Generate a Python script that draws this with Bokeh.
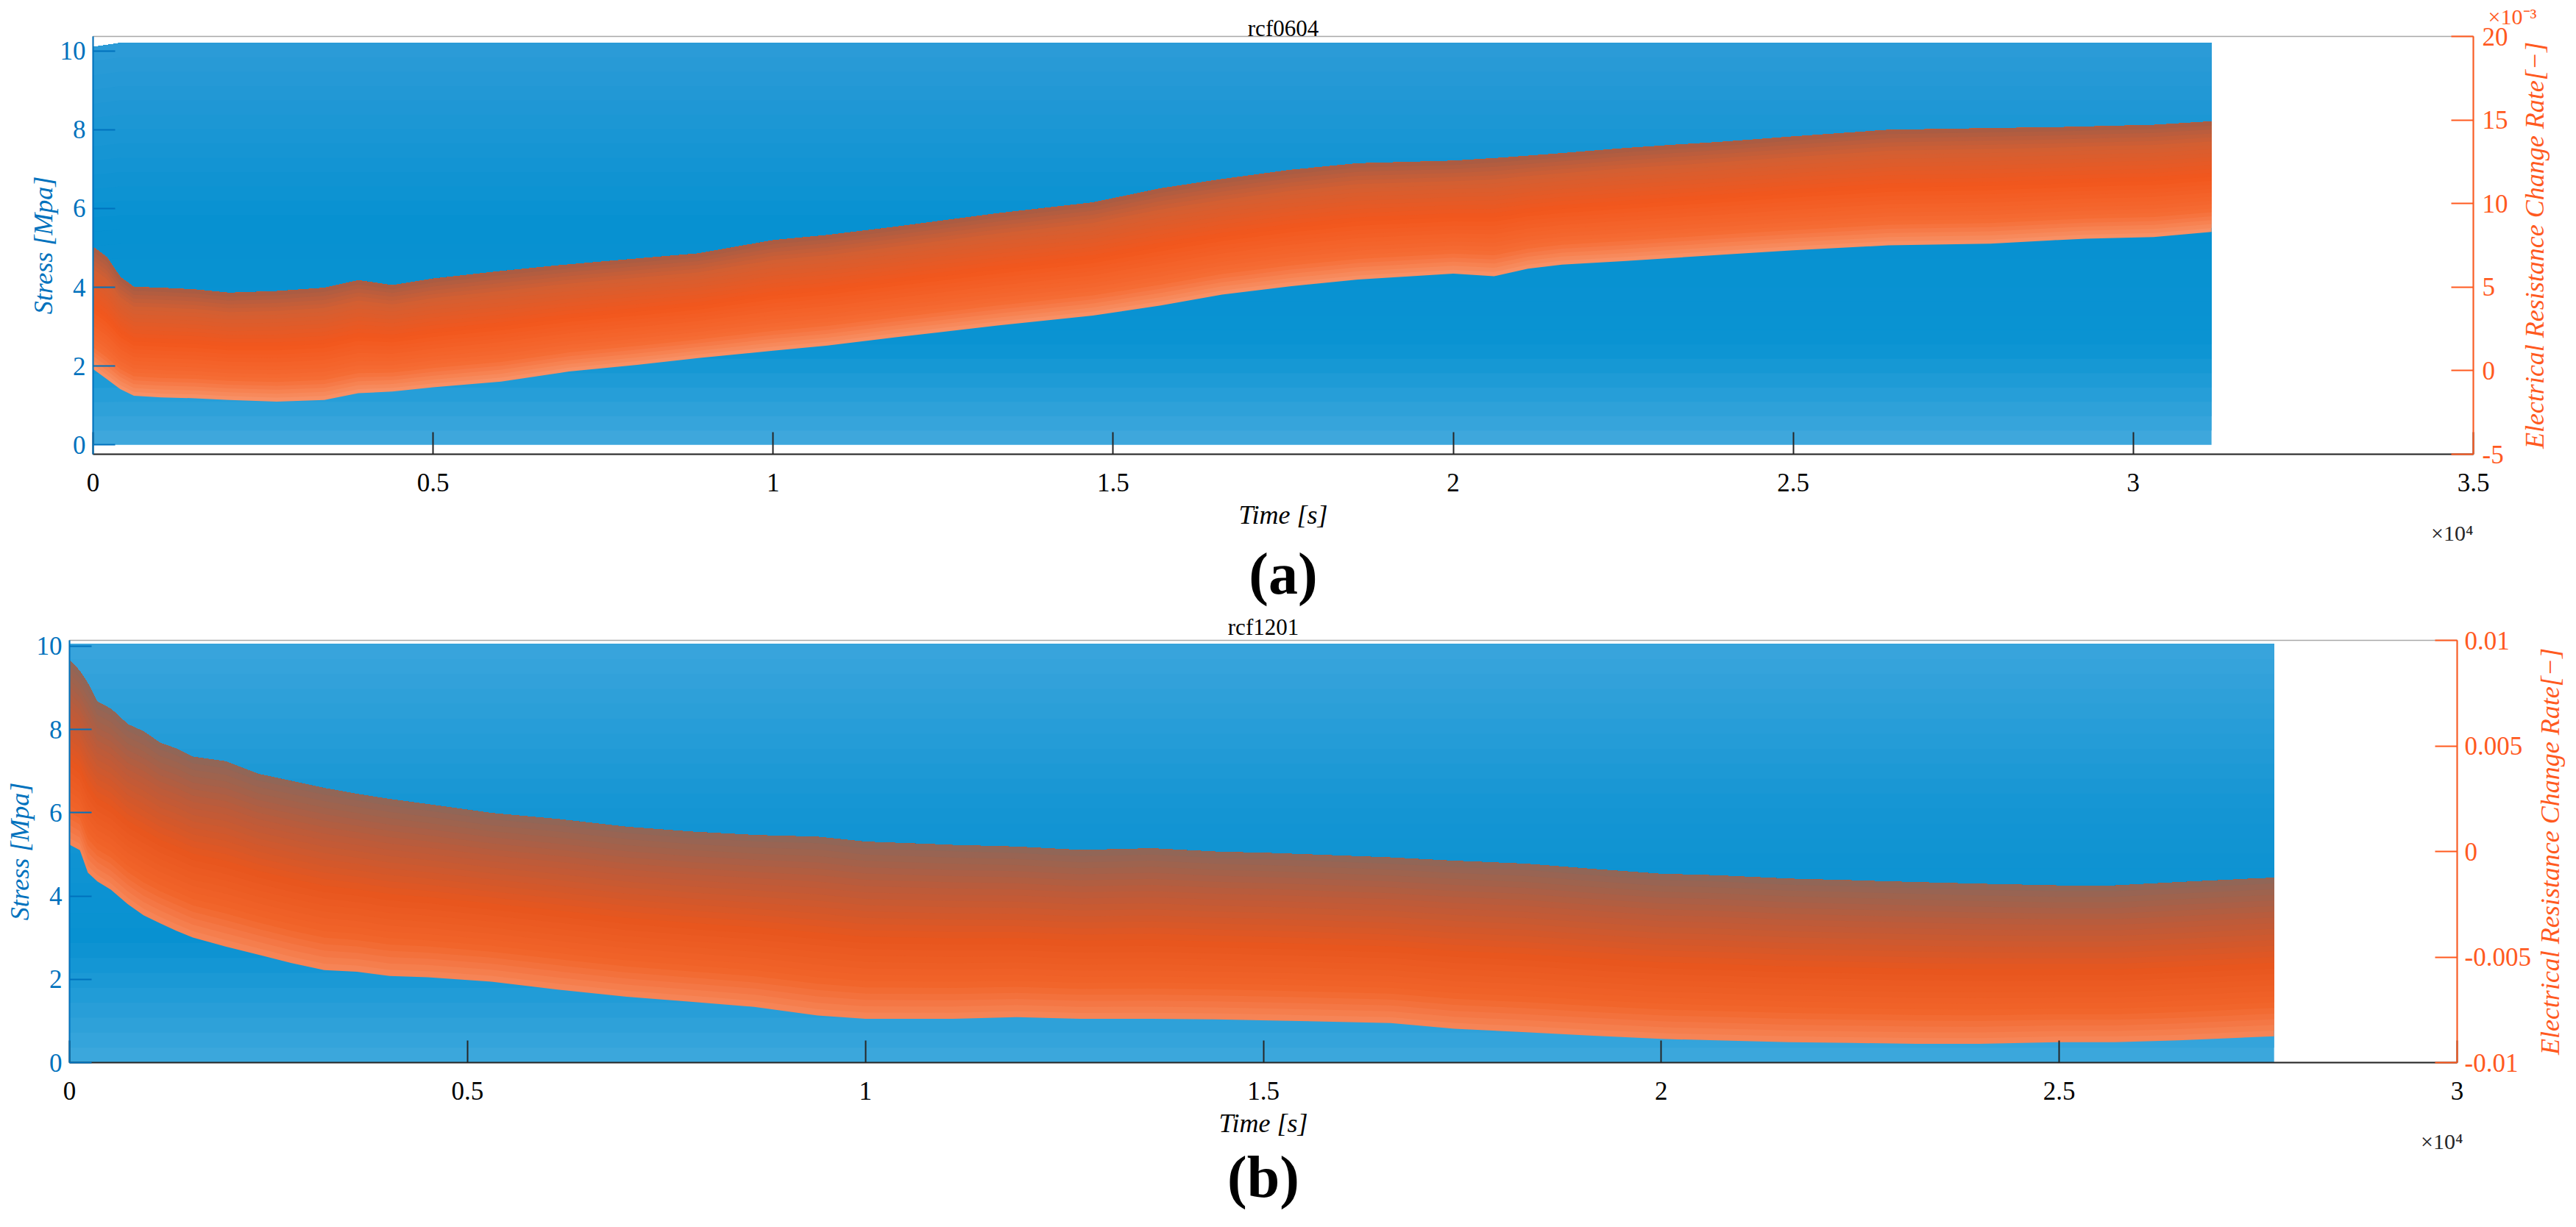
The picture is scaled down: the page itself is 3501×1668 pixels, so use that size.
import numpy as np
from bokeh.plotting import figure
from bokeh.layouts import column, row
from bokeh.models import Range1d, LinearAxis, FixedTicker, Title
from bokeh.embed import file_html
from bokeh.resources import INLINE

# ---------------- data ----------------
# (a) rcf0604 : stress envelope [MPa]
a_time_stress = [0, 400, 31150]
a_stress_max = [10.1, 10.2, 10.2]
a_stress_min = [0.0, 0.0, 0.0]
# (a) electrical resistance change rate envelope [x1e-3]
a_time_res = [0, 200, 400, 600, 1000, 1500, 2000, 2700, 3400, 3900, 4400, 5000,
              6000, 7000, 8000, 8900, 10000, 10800, 11800, 13300, 14700, 15700,
              16600, 17600, 18600, 20000, 20600, 21100, 21600, 22500, 24000, 25000,
              26400, 27900, 28800, 29300, 30300, 31150]
a_res_upper = [7.4, 6.8, 5.6, 5.0, 4.95, 4.85, 4.65, 4.75, 4.95, 5.4, 5.1, 5.5,
               5.95, 6.35, 6.7, 7.0, 7.8, 8.1, 8.6, 9.4, 10.05, 10.9,
               11.45, 12.0, 12.4, 12.55, 12.7, 12.85, 13.0, 13.3, 13.7, 14.0,
               14.4, 14.5, 14.55, 14.6, 14.7, 14.9]
a_res_lower = [0.1, -0.5, -1.1, -1.5, -1.6, -1.65, -1.75, -1.85, -1.75, -1.35, -1.25, -1.0,
               -0.65, -0.05, 0.35, 0.75, 1.2, 1.5, 2.0, 2.7, 3.3, 3.9,
               4.55, 5.05, 5.45, 5.8, 5.65, 6.1, 6.35, 6.55, 6.95, 7.2,
               7.5, 7.6, 7.8, 7.9, 8.0, 8.3]

# (b) rcf1201 : stress envelope [MPa]
b_time_stress = [0, 27700]
b_stress_max = [10.05, 10.05]
b_stress_min = [0.0, 0.0]
# (b) electrical resistance change rate envelope [-]
b_time_res = [0, 130, 230, 350, 520, 730, 930, 1140, 1340, 1550,
              1960, 2370, 2790, 3200, 3610, 4020, 4500, 5300, 6200, 7000,
              7800, 8600, 9400, 10000, 11100, 11900, 12700, 13600, 14400, 15200,
              16600, 17400, 18300, 19100, 20000, 20700, 21600, 22400, 23200, 24000,
              25000, 25700, 26500, 27700]
b_res_upper = [0.00907, 0.00854, 0.00795, 0.00708, 0.00675, 0.00602, 0.00568, 0.00513, 0.00487, 0.00448,
               0.00426, 0.00367, 0.00333, 0.00300, 0.00272, 0.00247, 0.00223, 0.00181, 0.00150, 0.00116,
               0.00093, 0.00077, 0.00069, 0.00045, 0.00030, 0.00022, 0.00006, 0.00014, -0.00002, -0.00010,
               -0.00030, -0.00045, -0.00059, -0.00083, -0.00107, -0.00114, -0.00130, -0.00138, -0.00146, -0.00154,
               -0.00162, -0.00162, -0.00146, -0.00125]
b_res_lower = [0.00032, 0.00006, -0.00100, -0.00142, -0.00181, -0.00249, -0.00302, -0.00341, -0.00375, -0.00408,
               -0.00450, -0.00489, -0.00529, -0.00562, -0.00570, -0.00590, -0.00596, -0.00617, -0.00657, -0.00688,
               -0.00712, -0.00736, -0.00777, -0.00793, -0.00793, -0.00785, -0.00793, -0.00793, -0.00795, -0.00801,
               -0.00813, -0.00840, -0.00856, -0.00872, -0.00888, -0.00895, -0.00903, -0.00907, -0.00911, -0.00911,
               -0.00903, -0.00903, -0.00895, -0.00875]

# axis ticks / labels
a_x_ticks = [0, 5000, 10000, 15000, 20000, 25000, 30000, 35000]
a_x_labels = ["0", "0.5", "1", "1.5", "2", "2.5", "3", "3.5"]
b_x_ticks = [0, 5000, 10000, 15000, 20000, 25000, 30000]
b_x_labels = ["0", "0.5", "1", "1.5", "2", "2.5", "3"]
stress_ticks = [0, 2, 4, 6, 8, 10]
a_res_ticks = [-5, 0, 5, 10, 15, 20]
a_res_labels = ["-5", "0", "5", "10", "15", "20"]
b_res_ticks = [-0.01, -0.005, 0, 0.005, 0.01]
b_res_labels = ["-0.01", "-0.005", "0", "0.005", "0.01"]

# ---------------- styling ----------------
FONT = "Liberation Serif"
BLUE_TXT = "#0072BD"
ORANGE_TXT = "#FF5A1F"
DARK = "#262626"
RES_LABEL = "Electrical Resistance Change Rate[\u2212]"

BLUE_STOPS_A = [(0.0, "#2d9bd7"), (0.45, "#0791d1"), (0.75, "#0a93d2"), (1.0, "#42a9dd")]
BLUE_STOPS_B = [(0.0, "#3aa5dc"), (0.4, "#1495d3"), (0.7, "#0891d1"), (1.0, "#3ea8dd")]
ORANGE_STOPS_A = [(0.0, "#a65c45"), (0.2, "#d45f32"), (0.5, "#f2571d"), (0.8, "#f56b33"), (1.0, "#f8946a")]
ORANGE_STOPS_B = [(0.0, "#8e6759"), (0.25, "#bb5b3b"), (0.55, "#e8561e"), (0.8, "#f1642a"), (1.0, "#f6875a")]


def _rgb(h):
    h = h.lstrip("#")
    return [int(h[i:i + 2], 16) for i in (0, 2, 4)]


def grad(stops, f):
    for (p0, c0), (p1, c1) in zip(stops[:-1], stops[1:]):
        if p0 <= f <= p1:
            w = (f - p0) / (p1 - p0) if p1 > p0 else 0
            a, b = _rgb(c0), _rgb(c1)
            return "#%02x%02x%02x" % tuple(int(round(a[k] + (b[k] - a[k]) * w)) for k in range(3))
    return stops[-1][1]


def band(p, t, lo, hi, stops, n=28, **kw):
    t = np.asarray(t, float)
    lo = np.asarray(lo, float)
    hi = np.asarray(hi, float)
    for i in reversed(range(n)):
        f1 = (i + 1) / n
        p.varea(x=t, y1=hi - f1 * (hi - lo), y2=hi, fill_color=grad(stops, (i + 0.5) / n), **kw)


def style_axis(ax, line_color, tick_color, label_color, standoff):
    ax.axis_line_color = line_color
    ax.axis_line_width = 2
    ax.major_tick_in = 30
    ax.major_tick_out = 0
    ax.major_tick_line_color = tick_color
    ax.major_tick_line_width = 2
    ax.minor_tick_line_color = None
    ax.major_label_text_font = FONT
    ax.major_label_text_font_size = "35px"
    ax.major_label_text_color = label_color
    ax.major_label_standoff = standoff
    ax.axis_label_text_font = FONT
    ax.axis_label_text_font_size = "36px"
    ax.axis_label_text_font_style = "italic"
    ax.axis_label_text_color = label_color


def text_title(text, size, color, align="center", style="normal", **kw):
    return Title(text=text, align=align, text_font=FONT, text_font_size=size,
                 text_font_style=style, text_color=color, **kw)


def make_panel(title, xmax, xticks, xlabels, ylim, rlim, rticks, rlabels,
               fw, fh, borders, r_tick_standoff, mult_offset, cap_text, cap_standoff, cap_offset,
               t_s, s_max, s_min, t_r, r_lo, r_hi, bstops, ostops, title_standoff, top_mult=None):
    p = figure(frame_width=fw, frame_height=fh, x_range=Range1d(0, xmax), y_range=Range1d(*ylim),
               output_backend="svg", toolbar_location=None,
               min_border_left=borders[0], min_border_right=borders[1],
               min_border_top=borders[2], min_border_bottom=borders[3],
               background_fill_color="white", border_fill_color="white")
    p.xgrid.visible = False
    p.ygrid.visible = False
    p.outline_line_color = "#a8a8a8"
    p.outline_line_width = 1.5

    if top_mult is None:
        p.title.text = title
        p.title.align = "center"
        p.title.vertical_align = "middle"
        p.title.text_font = FONT
        p.title.text_font_size = "31px"
        p.title.text_font_style = "normal"
        p.title.text_color = "black"
        p.title.standoff = title_standoff
    else:
        # outer title row: multiplier of the right axis; inner: panel title
        p.title.text = top_mult[0]
        p.title.align = "right"
        p.title.offset = top_mult[1]
        p.title.vertical_align = "middle"
        p.title.standoff = top_mult[2]
        p.title.text_font = FONT
        p.title.text_font_size = "30px"
        p.title.text_font_style = "normal"
        p.title.text_color = ORANGE_TXT
        p.add_layout(text_title(title, "31px", "black", vertical_align="middle",
                                standoff=title_standoff), "above")

    p.extra_y_ranges = {"r": Range1d(*rlim)}

    # stress (left axis)
    band(p, t_s, s_min, s_max, bstops)
    # electrical resistance change rate (right axis)
    band(p, t_r, r_lo, r_hi, ostops, y_range_name="r")

    xa = p.xaxis[0]
    xa.ticker = FixedTicker(ticks=xticks)
    xa.major_label_overrides = dict(zip(xticks, xlabels))
    xa.axis_label = "Time [s]"
    style_axis(xa, DARK, DARK, "black", 26)
    xa.axis_label_standoff = 9

    ya = p.yaxis[0]
    ya.ticker = FixedTicker(ticks=stress_ticks)
    ya.axis_label = "Stress [Mpa]"
    style_axis(ya, BLUE_TXT, BLUE_TXT, BLUE_TXT, 10)
    ya.axis_label_standoff = 0

    ra = LinearAxis(y_range_name="r", ticker=FixedTicker(ticks=rticks),
                    major_label_overrides=dict(zip(rticks, rlabels)))
    style_axis(ra, ORANGE_TXT, ORANGE_TXT, ORANGE_TXT, r_tick_standoff)
    p.add_layout(ra, "right")

    # x10^4 multiplier of the time axis, at the right end of the axis
    p.add_layout(text_title("\u00d710\u2074", "30px", DARK, align="right",
                            offset=mult_offset, standoff=-37), "below")
    # panel caption
    p.add_layout(text_title(cap_text, "80px", "black", style="bold",
                            standoff=cap_standoff, offset=cap_offset), "below")
    return p


def side_label(text, fh, top, bottom, left, overlap=0):
    # transparent strip holding the right-hand axis title, read from bottom to top
    q = figure(frame_width=1, frame_height=fh, x_range=Range1d(0, 1), y_range=Range1d(0, 1),
               x_axis_location=None, y_axis_location=None,
               output_backend="svg", toolbar_location=None,
               min_border_left=left, min_border_right=0,
               min_border_top=top, min_border_bottom=bottom,
               background_fill_color=None, border_fill_color=None)
    q.outline_line_color = None
    q.grid.visible = False
    q.title.text = ""
    q.add_layout(text_title(text, "36px", ORANGE_TXT, style="italic",
                            vertical_align="middle", standoff=0), "left")
    if overlap:
        try:
            q.margin = (0, 0, 0, -overlap)
        except Exception:
            pass
    return q


A_FH, A_TOP, A_BOT = 568, 49, 215
B_FH, B_TOP, B_BOT = 574, 36, 205

pa = make_panel("rcf0604", 35000, a_x_ticks, a_x_labels, (-0.24, 10.37), (-5, 20),
                a_res_ticks, a_res_labels, 3235, A_FH, (126, 90, A_TOP, A_BOT),
                12, 0, "(a)", 22, 0,
                a_time_stress, a_stress_max, a_stress_min, a_time_res, a_res_lower, a_res_upper,
                BLUE_STOPS_A, ORANGE_STOPS_A, -15, top_mult=("\u00d710\u207b\u00b3", -86, -25))
qa = side_label(RES_LABEL, A_FH, A_TOP, A_BOT, 48, overlap=34)

pb = make_panel("rcf1201", 30000, b_x_ticks, b_x_labels, (0, 10.14), (-0.01, 0.01),
                b_res_ticks, b_res_labels, 3245, B_FH, (94, 100, B_TOP, B_BOT),
                10, -8, "(b)", 9, 29,
                b_time_stress, b_stress_max, b_stress_min, b_time_res, b_res_lower, b_res_upper,
                BLUE_STOPS_B, ORANGE_STOPS_B, -1)
qb = side_label(RES_LABEL, B_FH, B_TOP, B_BOT, 44)

layout = column(row(pa, qa, spacing=0), row(pb, qb, spacing=0), spacing=0)
open("out.html", "w").write(file_html(layout, INLINE))
